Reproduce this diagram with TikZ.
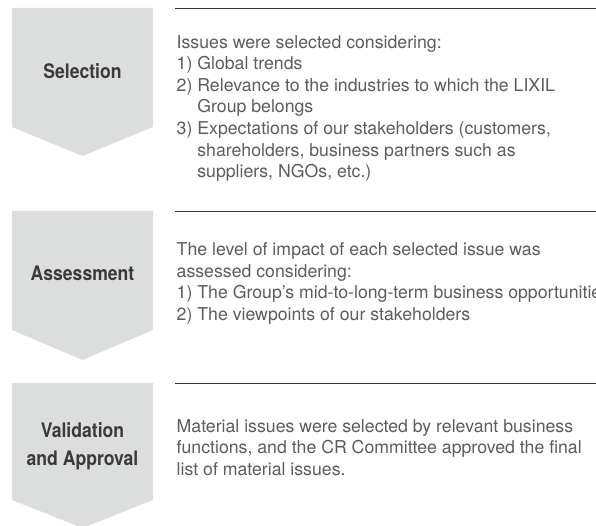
\documentclass[tikz,border=0pt]{standalone}
\usepackage{fontspec}
\setmainfont{TeX Gyre Heros}
\newfontfamily\headfont[FakeStretch=0.88]{TeX Gyre Heros}
\definecolor{chevfill}{RGB}{220,221,221}
\definecolor{rulegray}{RGB}{55,55,55}
\definecolor{bodygray}{RGB}{92,92,92}
\definecolor{headgray}{RGB}{58,58,58}
\tikzset{
  chevron/.style={fill=chevfill},
  steplabel/.style={font=\headfont\bfseries\fontsize{20}{28}\selectfont, text=headgray, align=center, inner sep=0pt},
  steptext/.style={font=\fontsize{17.7}{21.6}\selectfont, text=bodygray, align=left, anchor=north west, inner sep=0pt},
  steprule/.style={draw=rulegray, line width=1pt}
}
\begin{document}
\begin{tikzpicture}[x=1pt,y=-1pt]
\useasboundingbox (0,0) rectangle (596,526);

%Shape: Chevron [Selection]
\fill [chevron] (12,8) -- (153,8) -- (153,127) -- (82.5,156) -- (12,127) -- cycle ;
%Shape: Chevron [Assessment]
\fill [chevron] (12,211) -- (153,211) -- (153,330) -- (82.5,360) -- (12,330) -- cycle ;
%Shape: Chevron [Validation]
\fill [chevron] (12,383) -- (153,383) -- (153,500) -- (82.5,528) -- (12,500) -- cycle ;

%Straight Lines
\draw [steprule] (175,9) -- (596,9) ;
\draw [steprule] (175,212) -- (596,212) ;
\draw [steprule] (175,383) -- (596,383) ;

% Text Node
\node [steplabel] (selection) at (82.5,71) {Selection};
\node [steplabel] (assessment) at (82.5,273) {Assessment};
\node [steplabel] (validation) at (82.5,446) {Validation\\and Approval};

% Text Node
\node [steptext] (selecttext) at (176.5,35) {Issues were selected considering:\\
1) Global trends\\
2) Relevance to the industries to which the LIXIL\\
\phantom{2) }Group belongs\\
3) Expectations of our stakeholders (customers,\\
\phantom{3) }shareholders, business partners such as\\
\phantom{3) }suppliers, NGOs, etc.)};
\node [steptext] (assesstext) at (176.5,242.5) {The level of impact of each selected issue was\\
assessed considering:\\
1) The Group’s mid-to-long-term business opportunities\\
2) The viewpoints of our stakeholders};
\node [steptext] (validtext) at (176.5,419) {Material issues were selected by relevant business\\
functions, and the CR Committee approved the final\\
list of material issues.};

\end{tikzpicture}
\end{document}
